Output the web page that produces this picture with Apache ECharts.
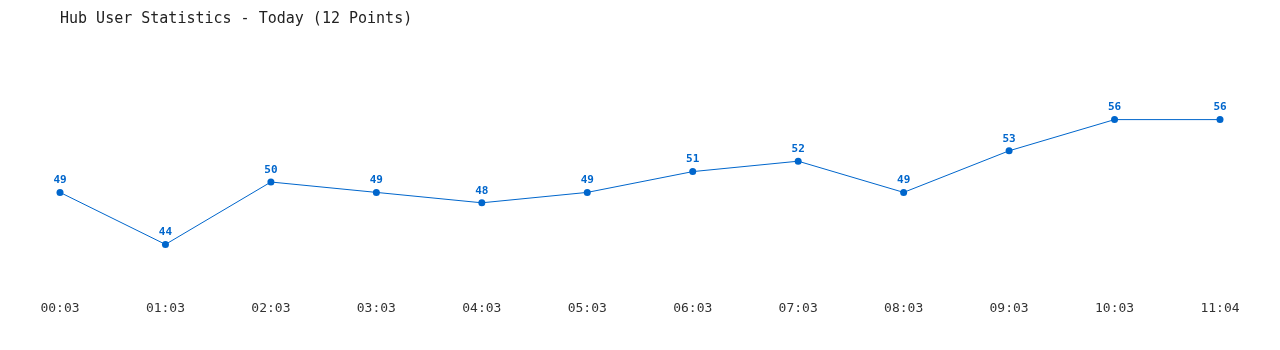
<!DOCTYPE html>
<html><head><meta charset="utf-8">
<script src="https://cdn.jsdelivr.net/npm/echarts@6/dist/echarts.min.js"></script>
<style>html,body{margin:0;padding:0;background:#fff}#c{width:1280px;height:350px}</style>
</head><body><div id="c"></div>
<script>
const categories = ["00:03","01:03","02:03","03:03","04:03","05:03","06:03","07:03","08:03","09:03","10:03","11:04"];
const users = [49,44,50,49,48,49,51,52,49,53,56,56];
const titleText = "Hub User Statistics - Today (12 Points)";
const font = "'DejaVu Sans Mono', 'Liberation Mono', monospace";
const chart = echarts.init(document.getElementById('c'), null, {renderer:'canvas'});
chart.setOption({
  animation:false,
  backgroundColor:'#ffffff',
  title:{text:titleText,left:55,top:7,textStyle:{fontFamily:font,fontSize:15,fontWeight:'normal',color:'#222'}},
  grid:{left:60,right:60,top:78,bottom:64},
  xAxis:{type:'category',data:categories,boundaryGap:false,
    axisLine:{show:false},axisTick:{show:false},splitLine:{show:false},
    axisLabel:{fontFamily:font,fontSize:13,color:'#333',margin:16}},
  yAxis:{type:'value',min:40,max:60,show:false,splitLine:{show:false}},
  series:[{type:'line',data:users,symbol:'circle',symbolSize:7,
    lineStyle:{color:'#0066cc',width:1},itemStyle:{color:'#0066cc'},
    label:{show:true,position:'top',distance:3,fontFamily:font,fontSize:11,fontWeight:'bold',color:'#0066cc'}}]
});
</script></body></html>
